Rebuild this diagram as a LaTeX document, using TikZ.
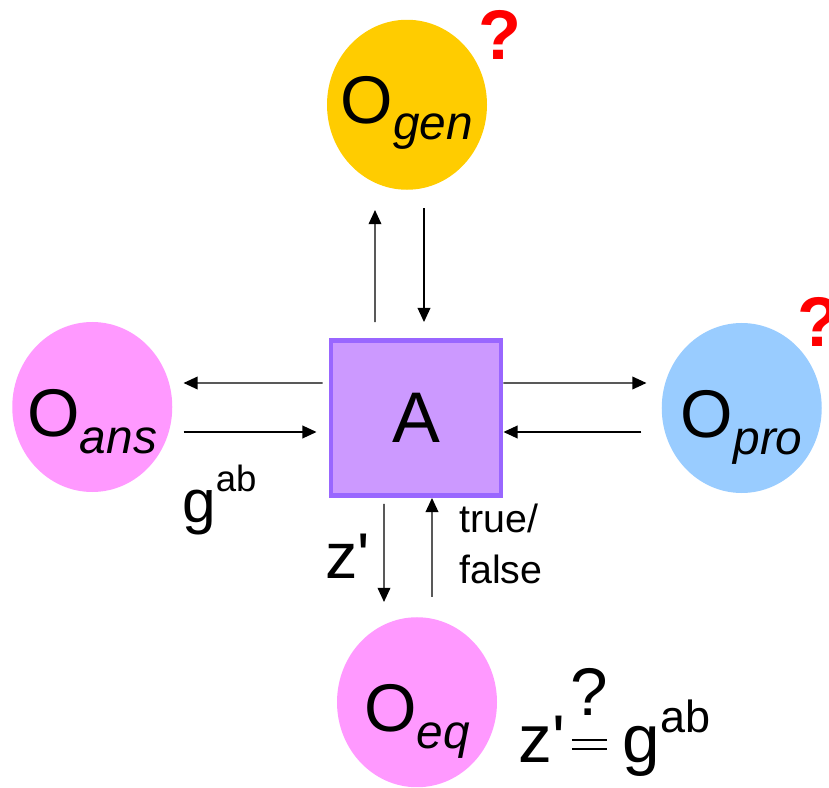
\documentclass[tikz,border=0pt]{standalone}
\usepackage{fontspec}
\setmainfont{Liberation Sans}
\usetikzlibrary{arrows.meta,positioning,shapes.geometric}
\definecolor{gold}{HTML}{FFCC00}
\definecolor{pinkish}{HTML}{FF99FF}
\definecolor{skyish}{HTML}{99CCFF}
\definecolor{lilac}{HTML}{CC99FF}
\definecolor{boxedge}{HTML}{9966FF}
\begin{document}
\begin{tikzpicture}[
oracle/.style={ellipse,minimum width=4cm,minimum height=4.25cm,inner sep=0pt,font=\fontsize{48}{56}\selectfont,text height=44pt,text depth=2pt},
adv/.style={draw=boxedge,line width=3.5pt,fill=lilac,minimum width=4.25cm,minimum height=3.875cm,font=\fontsize{51}{60}\selectfont},
arrow/.style={-{Triangle[length=10pt,width=9pt]},line width=1pt},
qmark/.style={text=red,font=\fontsize{50}{60}\selectfont\bfseries,inner sep=0pt},
lab/.style={anchor=base west,inner sep=0pt}]
\useasboundingbox (0,0) rectangle (20.725,19.675);
\node[adv](A) at (10.4,9.225){A};
\node[oracle,fill=gold,above=3.7cm of A,xshift=-0.225cm,text height=28pt](gen){\makebox[0pt]{O\raisebox{-12pt}{\fontsize{34}{40}\selectfont\itshape gen}}};
\node[oracle,fill=pinkish,left=3.9cm of A,yshift=0.275cm](ans){\makebox[0pt]{O\raisebox{-12pt}{\fontsize{34}{40}\selectfont\itshape ans}}};
\node[oracle,fill=skyish,right=3.95cm of A,yshift=0.25cm](pro){\makebox[0pt]{O\raisebox{-12pt}{\fontsize{34}{40}\selectfont\itshape pro}}};
\node[oracle,fill=pinkish,below=2.975cm of A,xshift=0.025cm](eq){\makebox[0pt]{O\raisebox{-12pt}{\fontsize{34}{40}\selectfont\itshape eq}}};
\node[qmark](genq) at (12.5,18.8){?};
\node[qmark](proq) at (20.475,11.625){?};
\draw[arrow]([shift={(-1.025,0.4)}]A.north)--([shift={(-0.8,-0.5)}]gen.south);
\draw[arrow]([shift={(0.425,-0.45)}]gen.south)--([shift={(0.2,0.4)}]A.north);
\draw[arrow]([shift={(-0.15,0.875)}]A.west)--([shift={(0.275,0.6)}]ans.east);
\draw[arrow]([shift={(0.275,-0.625)}]ans.east)--([shift={(-0.3,-0.35)}]A.west);
\draw[arrow]([shift={(0,0.875)}]A.east)--([shift={(-0.375,0.625)}]pro.west);
\draw[arrow]([shift={(-0.5,-0.6)}]pro.west)--([shift={(0,-0.35)}]A.east);
\draw[arrow]([shift={(-0.8,-0.15)}]A.south)--([shift={(-0.825,0.375)}]eq.north);
\draw[arrow]([shift={(0.375,0.5)}]eq.north)--([shift={(0.4,0)}]A.south);
\node[lab,font=\fontsize{43}{50}\selectfont](gab) at (4.55,6.625){g\raisebox{22pt}{\fontsize{26}{30}\selectfont ab}};
\node[lab,font=\fontsize{46}{54}\selectfont](zq) at (8.125,5.225){z\textquotesingle};
\node[anchor=west,align=left,inner sep=0pt,font=\fontsize{28}{36}\selectfont](tf) at (11.475,6.075){true/\\false};
\node[lab,font=\fontsize{48}{56}\selectfont](test) at (12.95,0.625){z\textquotesingle\hspace{5pt}\rlap{\makebox[25pt]{\raisebox{33pt}{?}}}\rlap{\raisebox{8.5pt}{\rule{25pt}{1.6pt}}}\raisebox{15pt}{\rule{25pt}{1.6pt}}\hspace{11pt}g\raisebox{21pt}{\fontsize{32}{38}\selectfont ab}};
\end{tikzpicture}
\end{document}
